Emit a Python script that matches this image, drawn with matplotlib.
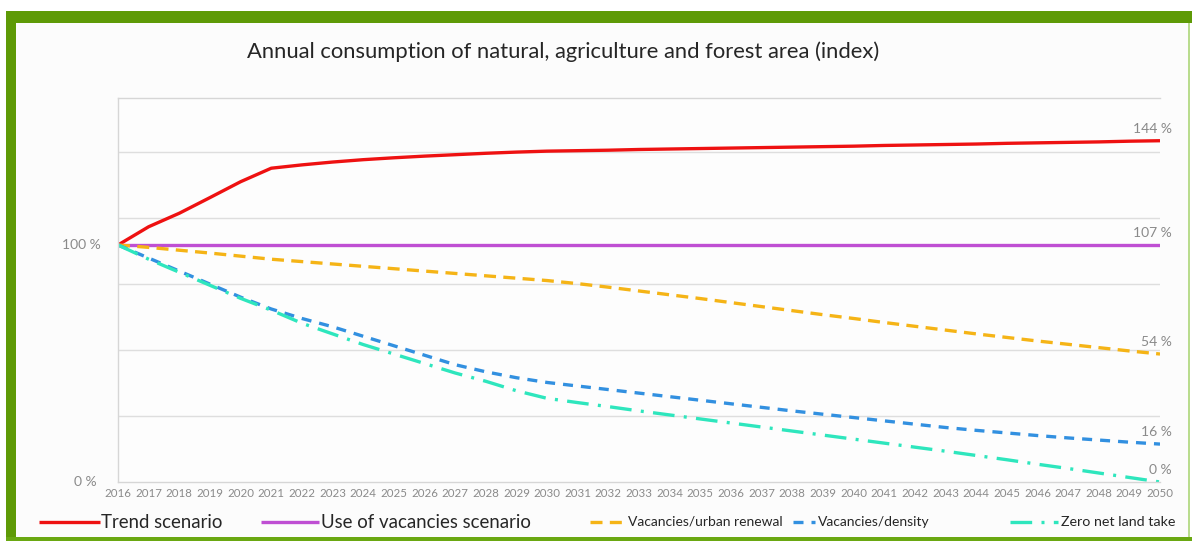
import matplotlib
matplotlib.use("Agg")
import matplotlib.pyplot as plt
from matplotlib.lines import Line2D
from matplotlib.patches import Rectangle
from matplotlib.transforms import ScaledTranslation
import numpy as np

years = list(range(2016, 2051))

trend = [100, 107.7, 113.4, 120.0, 126.7, 132.4, 133.8, 135.0, 136.0, 136.8,
         137.5, 138.1, 138.7, 139.2, 139.6, 139.8, 140.0, 140.3, 140.5, 140.7,
         140.9, 141.1, 141.3, 141.5, 141.7, 142.0, 142.2, 142.4, 142.6, 142.9,
         143.1, 143.3, 143.5, 143.8, 144.0]
vacancies = [100] * 35
urban_renewal = [100, 99.0, 97.8, 96.6, 95.3, 94.0, 93.0, 92.0, 91.0, 90.0,
                 89.0, 88.0, 87.0, 86.0, 85.0, 83.7, 82.2, 80.6, 79.0, 77.4,
                 75.7, 74.0, 72.3, 70.6, 69.0, 67.3, 65.7, 64.1, 62.5, 61.0,
                 59.5, 58.1, 56.7, 55.3, 54.0]
density = [100, 94.5, 89.0, 83.5, 78.0, 73.0, 69.0, 65.5, 61.5, 57.5,
           53.5, 49.5, 46.5, 44.0, 42.0, 40.5, 39.0, 37.5, 36.0, 34.5,
           33.0, 31.5, 30.0, 28.6, 27.2, 25.8, 24.4, 23.0, 21.8, 20.7,
           19.6, 18.6, 17.7, 16.8, 16.0]
zero_net = [100, 94.0, 88.5, 83.0, 77.5, 72.5, 67.0, 62.5, 58.0, 54.0,
            50.0, 46.0, 42.5, 38.5, 35.3, 33.5, 31.8, 30.0, 28.3, 26.6,
            24.9, 23.2, 21.5, 19.8, 18.1, 16.4, 14.7, 13.0, 11.2, 9.4,
            7.5, 5.7, 3.8, 1.9, 0.0]

end_labels = ["144 %", "107 %", "54 %", "16 %", "0 %"]
legend_names = ["Trend scenario", "Use of vacancies scenario",
                "Vacancies/urban renewal", "Vacancies/density", "Zero net land take"]

W, H = 1192, 541
plt.rcParams["font.family"] = ["Lato", "DejaVu Sans"]
fig = plt.figure(figsize=(W / 100, H / 100), dpi=100)
fig.patch.set_facecolor("white")

def px(x0, y0, w, h, color):
    # rectangle given in pixels measured from the top-left corner
    fig.patches.append(Rectangle((x0 / W, 1 - (y0 + h) / H), w / W, h / H,
                                 transform=fig.transFigure, facecolor=color,
                                 edgecolor="none", zorder=-5))

# green frame around the chart
px(16, 23, 1172, 514, "#fcfcfc")
px(6, 11, 1186, 12, "#5e9a06")
px(6, 11, 10, 530, "#5e9a06")
px(6, 537, 1186, 4, "#6aa812")
px(1188, 23, 2, 514, "#b9dc8e")

ax = fig.add_axes([118 / W, 1 - 482 / H, (1160 - 118) / W, (482 - 98) / H])
ax.set_facecolor("#fdfdfd")
ax.set_zorder(2)

colors = ["#ee1111", "#bf4fd3", "#f5b416", "#3290e0", "#2ee6bd"]
styles = [dict(ls="-"), dict(ls="-"),
          dict(dashes=(3.6, 2.2)), dict(dashes=(3.0, 2.4)),
          dict(dashes=(6.5, 2.8, 0.9, 2.8))]
series = [trend, vacancies, urban_renewal, density, zero_net]
for vals, c, st in zip(series, colors, styles):
    ax.plot(years, vals, color=c, lw=2.4, solid_capstyle="butt", **st)

step = 66 / 2.37
ymax = (482 - 98) / 2.37
ax.set_xlim(2016, 2050)
ax.set_ylim(0, ymax)
ax.set_yticks(np.arange(1, 6) * step)
ax.set_yticklabels([])
ax.tick_params(axis="y", length=0)
ax.grid(axis="y", color="#dedede", lw=1)
ax.set_axisbelow(True)

ax.set_xticks(years)
ax.set_xticklabels([str(y) for y in years], fontsize=8.3, color="#8a8a8a")
ax.tick_params(axis="x", length=0, pad=4)

for side in ["left", "bottom", "top"]:
    ax.spines[side].set_color("#d6d6d6")
    ax.spines[side].set_linewidth(1)
ax.spines["right"].set_visible(False)

# end-of-line value labels
for vals, lab in zip(series, end_labels):
    ax.annotate(lab, xy=(2050, vals[-1]), xytext=(12, 12),
                textcoords="offset pixels", ha="right", va="center",
                fontsize=10, color="#8a8a8a", annotation_clip=False)

ytrans = ax.get_yaxis_transform()
ax.text(0, 100, "100 %", fontsize=10, color="#8a8a8a", ha="right", va="center",
        transform=ytrans + ScaledTranslation(-0.17, 0, fig.dpi_scale_trans))
ax.text(0, 0, "0 %", fontsize=10, color="#8a8a8a", ha="right", va="center",
        transform=ytrans + ScaledTranslation(-0.21, 0, fig.dpi_scale_trans))

fig.text(563 / W, 1 - 52 / H, "Annual consumption of natural, agriculture and forest area (index)",
         fontsize=15.8, color="#262626", ha="center", va="center")

# legend along the bottom edge
leg_y = 1 - 522 / H
handles = [(39, 100), (261, 319), (590, 624), (793, 815), (1010, 1058)]
text_x = [101, 321, 628, 818, 1061]
text_size = [13.4, 13.4, 10, 10, 10.3]
for (x0, x1), tx, name, c, st, fs in zip(handles, text_x, legend_names, colors, styles, text_size):
    fig.add_artist(Line2D([x0 / W, x1 / W], [leg_y, leg_y], transform=fig.transFigure,
                          color=c, lw=2.4, solid_capstyle="butt", **st))
    fig.text(tx / W, leg_y, name, fontsize=fs, color="#262626", ha="left", va="center")

fig.savefig("out.png", dpi=100)
